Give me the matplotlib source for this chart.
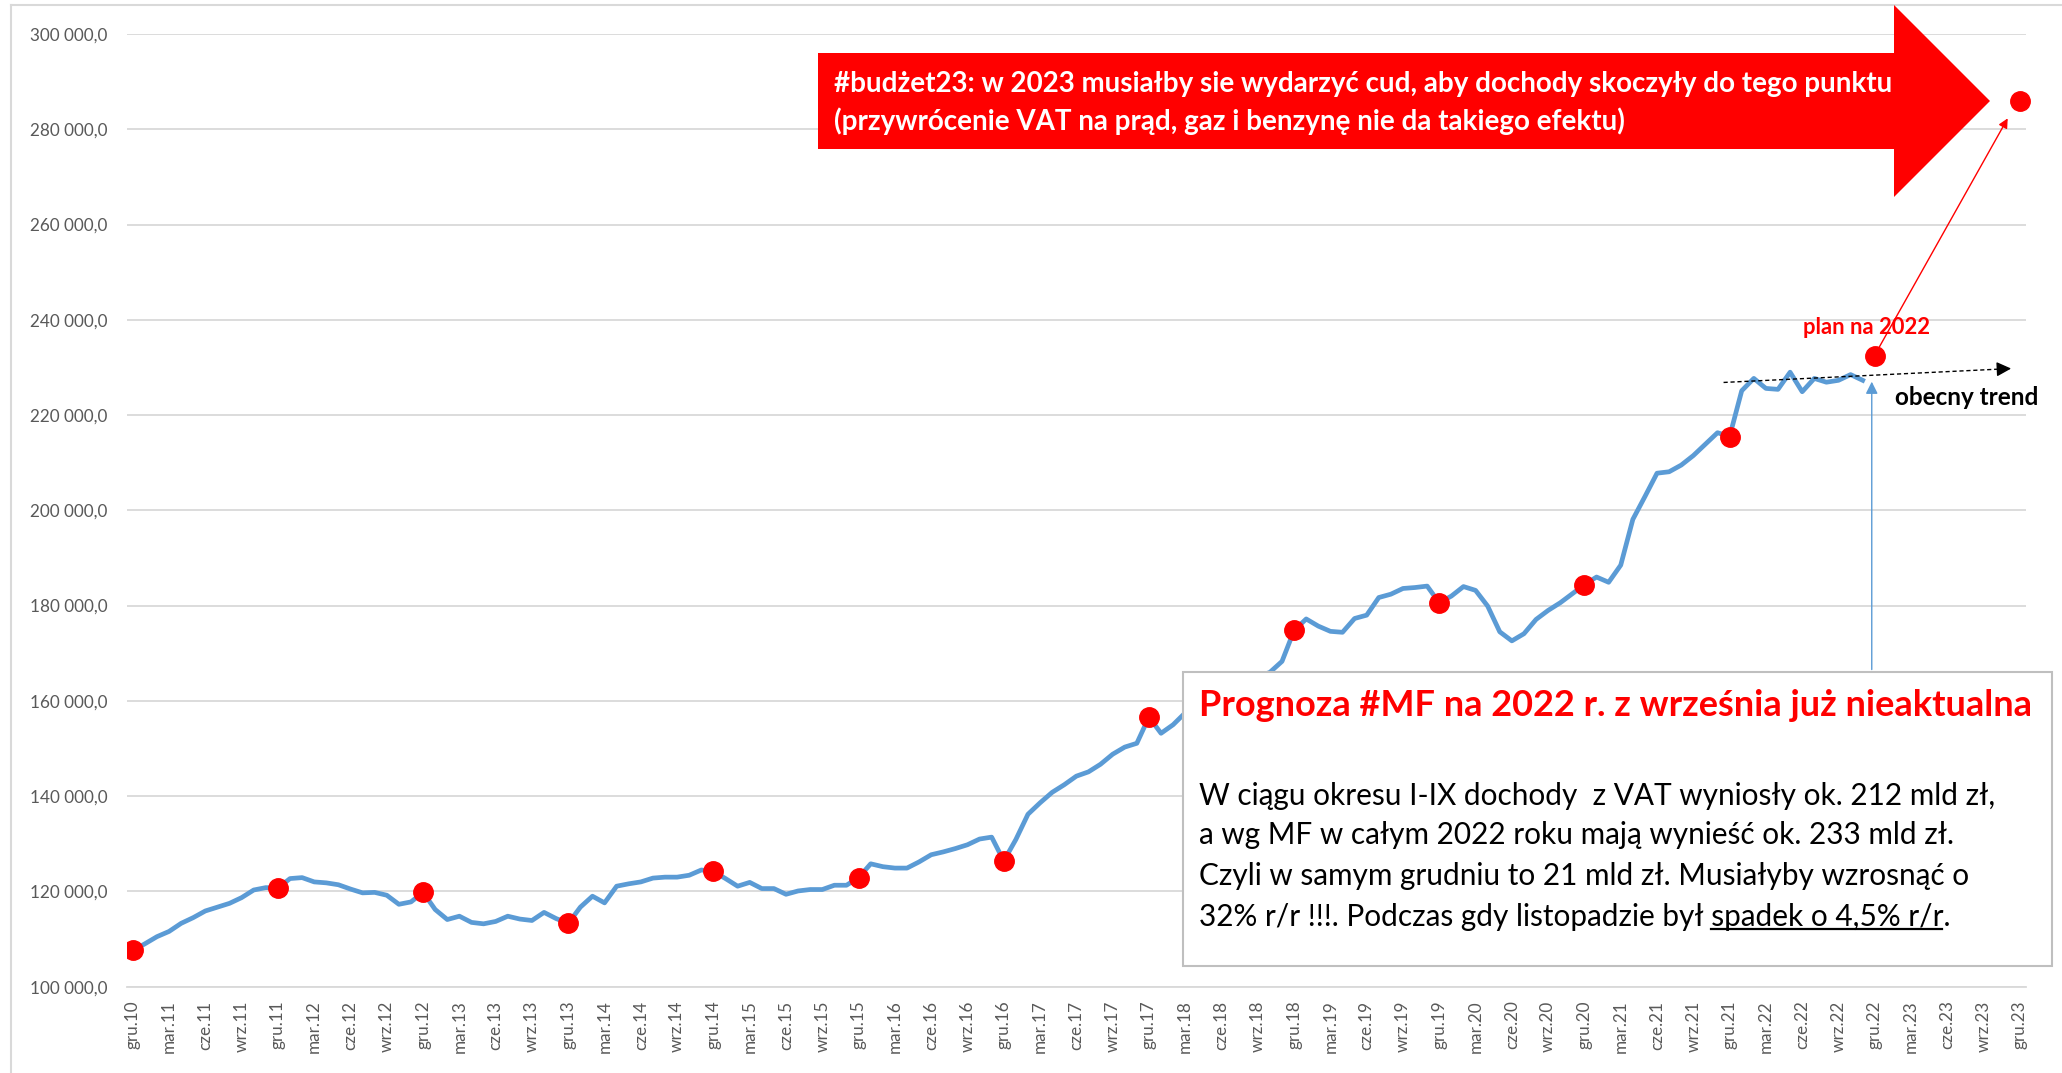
import matplotlib
matplotlib.use('Agg')
import matplotlib.pyplot as plt
from matplotlib.patches import Polygon, Rectangle
from matplotlib.lines import Line2D
from matplotlib.ticker import FuncFormatter

plt.rcParams['font.family'] = ['Lato', 'DejaVu Sans']

# monthly VAT revenue (cumulative 12m), gru.10 .. lis.22, mln zl
vat_values = [
    107600, 109000, 110500, 111600, 113300, 114500, 115900, 116700, 117500, 118700, 120300, 120800,
    120700, 122700, 122900, 122000, 121800, 121400, 120500, 119700, 119800, 119200, 117300, 117800,
    119800, 116200, 114100, 114800, 113500, 113200, 113700, 114800, 114200, 113900, 115600, 114300,
    113300, 116700, 119000, 117600, 121100, 121600, 122000, 122800, 123000, 123000, 123400, 124500,
    124200, 122700, 121100, 121900, 120600, 120600, 119400, 120100, 120400, 120400, 121300, 121300,
    122900, 125800, 125200, 124900, 124900, 126200, 127700, 128300, 129000, 129800, 131000, 131400,
    126400, 130900, 136200, 138600, 140800, 142400, 144200, 145100, 146700, 148800, 150300, 151100,
    156600, 153200, 155000, 157500, 159000, 160500, 161500, 163000, 164000, 165000, 166000, 168300,
    174800, 177200, 175700, 174600, 174400, 177300, 178000, 181700, 182400, 183600, 183800, 184100,
    180600, 182000, 184000, 183200, 179900, 174500, 172600, 174100, 177100, 179000, 180600, 182500,
    184400, 186000, 184900, 188500, 198100, 202900, 207800, 208100, 209500, 211500, 213900, 216300,
    215500, 225100, 227700, 225600, 225400, 229000, 224900, 227700, 226900, 227300, 228500, 227300,
]
december_idx = list(range(0, 133, 12))
plan_2022 = 232400
miracle_2023 = 286000
trend_start = (131.5, 226850)
trend_end = (155.5, 229800)

tick_months = ['gru', 'mar', 'cze', 'wrz']
tick_labels = []
for i in range(0, 157, 3):
    mon = tick_months[(i // 3) % 4]
    yr = 10 + (i + 11) // 12
    tick_labels.append(f'{mon}.{yr}')

arrow_line1 = '#budżet23: w 2023 musiałby sie wydarzyć cud, aby dochody skoczyły do tego punktu'
arrow_line2 = '(przywrócenie VAT na prąd, gaz i benzynę nie da takiego efektu)'
box_title = 'Prognoza #MF na 2022 r. z września już nieaktualna'
box_lines = [
    'W ciągu okresu I-IX dochody  z VAT wyniosły ok. 212 mld zł,',
    'a wg MF w całym 2022 roku mają wynieść ok. 233 mld zł.',
    'Czyli w samym grudniu to 21 mld zł. Musiałyby wzrosnąć o',
    '32% r/r !!!. Podczas gdy listopadzie był spadek o 4,5% r/r.',
]
underlined = 'spadek o 4,5% r/r'

W, H = 2062, 1073
BLUE = '#5B9BD5'
RED = '#FF0000'
GRID = '#D9D9D9'
BODY_FS = 21.4


def px(x, y):
    return x / W, 1 - y / H


fig = plt.figure(figsize=(W / 100, H / 100), dpi=100)
ax = fig.add_axes([126.7 / W, 1 - 986.7 / H, (2026 - 126.7) / W, (986.7 - 34) / H])

x = list(range(len(vat_values)))
ax.plot(x, vat_values, color=BLUE, lw=3.4, zorder=3, solid_joinstyle='round')
ax.plot(december_idx, [vat_values[i] for i in december_idx], 'o', color=RED, ms=14, zorder=4)
ax.plot([144], [plan_2022], 'o', color=RED, ms=14, zorder=4)
ax.plot([156], [miracle_2023], 'o', color=RED, ms=14, zorder=4, clip_on=False)

ax.set_xlim(-0.5, 156.5)
ax.set_ylim(100000, 300000)
ax.set_yticks(range(100000, 300001, 20000))
ax.yaxis.set_major_formatter(FuncFormatter(lambda v, p: f'{v:,.1f}'.replace(',', ' ').replace('.', ',')))
ax.set_xticks(range(0, 157, 3))
ax.set_xticklabels(tick_labels, rotation=90)
ax.tick_params(axis='both', length=0, labelsize=12.3, labelcolor='#595959')
ax.tick_params(axis='y', pad=14)
ax.tick_params(axis='x', pad=10)
ax.grid(axis='y', color=GRID, lw=1.3)
ax.set_axisbelow(True)
for s in ['left', 'right', 'top']:
    ax.spines[s].set_visible(False)
ax.spines['bottom'].set_color(GRID)
ax.spines['bottom'].set_linewidth(1.3)

# trend line
ax.plot([trend_start[0], trend_end[0] - 0.8], [trend_start[1], trend_end[1] - 100], ls=(0, (3, 2)),
        color='black', lw=1, zorder=5)
ax.annotate('', xy=trend_end, xytext=(trend_end[0] - 1.5, trend_end[1] - 180),
            arrowprops=dict(arrowstyle='-|>', color='black', lw=1, mutation_scale=22), zorder=5)
ax.text(145.7, 223600, 'obecny trend', fontsize=17.5, fontweight='bold', color='black', va='center')
ax.text(143.3, 238300, 'plan na 2022', fontsize=15.8, fontweight='bold', color=RED, ha='center', va='center')

# red arrow to 2023 point
ax.annotate('', xy=(155.1, 282800), xytext=(144.2, 233500),
            arrowprops=dict(arrowstyle='-|>', color=RED, lw=1, mutation_scale=14), zorder=5)
# blue arrow from box
ax.annotate('', xy=(143.75, 227600), xytext=(143.75, 166000),
            arrowprops=dict(arrowstyle='-|>', color=BLUE, lw=1, mutation_scale=18), zorder=5)

# frame of chart area
fig.add_artist(Line2D([11 / W, 11 / W], [0, 1 - 5 / H], color=GRID, lw=1.5))
fig.add_artist(Line2D([11 / W, 1], [1 - 5 / H, 1 - 5 / H], color=GRID, lw=1.5))

# big red block arrow
pts = [px(818, 53), px(1894, 53), px(1894, 5), px(1990, 101), px(1894, 197), px(1894, 149), px(818, 149)]
fig.add_artist(Polygon(pts, closed=True, transform=fig.transFigure, facecolor=RED, edgecolor='none', zorder=10))
fig.text(*px(834, 84), arrow_line1, color='white', fontsize=20, fontweight='bold', va='center', zorder=11)
fig.text(*px(834, 121), arrow_line2, color='white', fontsize=20, fontweight='bold', va='center', zorder=11)

# text box
bx0, by0 = px(1183, 966)
bx1, by1 = px(2052, 672)
fig.add_artist(Rectangle((bx0, by0), bx1 - bx0, by1 - by0, transform=fig.transFigure,
                         facecolor='white', edgecolor='#BFBFBF', lw=1.5, zorder=10))
fig.text(*px(1199, 705), box_title, color=RED, fontsize=26, fontweight='bold', va='center', zorder=11)
body_y = [796, 835, 876, 917]
texts = []
for line, yy in zip(box_lines, body_y):
    texts.append(fig.text(*px(1199, yy), line, color='black', fontsize=BODY_FS, va='center', zorder=11))

# underline part of last line
renderer = fig.canvas.get_renderer()
bb = texts[-1].get_window_extent(renderer)
tmp1 = fig.text(0, 0, underlined + '.', fontsize=BODY_FS)
tmp2 = fig.text(0, 0, '.', fontsize=BODY_FS)
w_suf = tmp1.get_window_extent(renderer).width
w_dot = tmp2.get_window_extent(renderer).width
tmp1.remove()
tmp2.remove()
ux0 = bb.x1 - w_suf
ux1 = bb.x1 - w_dot - 2
uy = bb.y0 + 2
fig.add_artist(Line2D([ux0 / W, ux1 / W], [uy / H, uy / H], color='black', lw=1.6, zorder=12))

fig.savefig('out.png', dpi=100)
